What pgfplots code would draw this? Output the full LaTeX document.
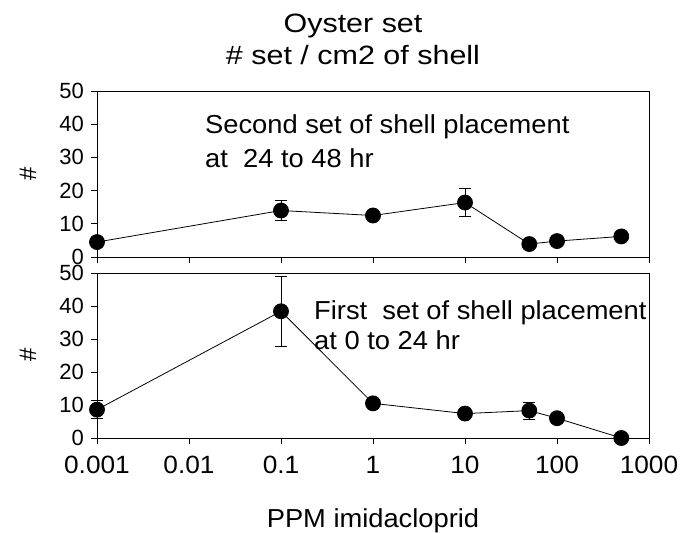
\documentclass[border=0pt]{standalone}
\usepackage{pgfplots}
\pgfplotsset{compat=1.18}
\usepackage{fontspec}
\setmainfont{Liberation Sans}
\newfontfamily\titlefont[FakeStretch=1.15]{Liberation Sans}
\newfontfamily\lblfont[FakeStretch=1.05]{Liberation Sans}

\pgfplotstableread{
x y e
0.001 4.5 0
0.1 14.0 3.0
1 12.5 0
10 16.4 4.2
50 3.9 0
100 4.8 1.0
500 6.2 0
}\secondset

\pgfplotstableread{
x y e
0.001 8.6 2.65
0.1 38.4 10.7
1 10.5 0
10 7.4 0
50 8.3 2.6
100 6.0 0
500 0 0
}\firstset

\begin{document}
\begin{tikzpicture}
\path[use as bounding box] (0,0) rectangle (696bp,533bp);

\begin{axis}[at={(97bp,276bp)}, anchor=south west,
    scale only axis, width=552bp, height=166bp,
    xmode=log, xmin=0.001, xmax=1000, ymin=0, ymax=50,
    xtick={0.001,0.01,0.1,1,10,100,1000}, xticklabels={},
    minor xtick={}, xminorticks=false,
    ytick={0,10,20,30,40,50},
    xtick pos=bottom, ytick pos=left, tick align=outside,
    major tick length=6bp,
    axis line style={black, line width=0.9bp},
    tick style={black, line width=0.9bp},
    /pgf/number format/assume math mode=true,
    yticklabel style={font=\fontsize{22bp}{26bp}\selectfont, inner sep=0pt, xshift=-7bp},
    clip=false]
\addplot[black, line width=0.8bp, mark=*, mark size=7.5bp, mark options={fill=black, draw=black},
  error bars/.cd, y dir=both, y explicit,
  error bar style={line width=0.8bp, black},
  error mark options={black, line width=0.8bp, mark size=6bp, rotate=90}]
  table[x=x, y=y, y error=e] {\secondset};
\end{axis}

\begin{axis}[at={(97bp,95bp)}, anchor=south west,
    scale only axis, width=552bp, height=165bp,
    xmode=log, xmin=0.001, xmax=1000, ymin=0, ymax=50,
    xtick={0.001,0.01,0.1,1,10,100,1000},
    xticklabels={0.001,0.01,0.1,1,10,100,1000},
    minor xtick={}, xminorticks=false,
    ytick={0,10,20,30,40,50},
    xtick pos=bottom, ytick pos=left, tick align=outside,
    major tick length=6bp,
    axis line style={black, line width=0.9bp},
    tick style={black, line width=0.9bp},
    /pgf/number format/assume math mode=true,
    yticklabel style={font=\fontsize{22bp}{26bp}\selectfont, inner sep=0pt, xshift=-7bp},
    xticklabel style={font=\fontsize{25bp}{30bp}\lblfont, inner sep=0pt, yshift=-12bp},
    clip=false]
\addplot[black, line width=0.8bp, mark=*, mark size=7.5bp, mark options={fill=black, draw=black},
  error bars/.cd, y dir=both, y explicit,
  error bar style={line width=0.8bp, black},
  error mark options={black, line width=0.8bp, mark size=6bp, rotate=90}]
  table[x=x, y=y, y error=e] {\firstset};
\end{axis}

% titles and labels
\node[font=\fontsize{26.5bp}{32bp}\titlefont, anchor=base] at (353bp,500bp) {Oyster set};
\node[font=\fontsize{26.5bp}{32bp}\titlefont, anchor=base] at (353bp,468bp) {\# set / cm2 of shell};
\node[font=\fontsize{26bp}{30bp}\lblfont, anchor=base] at (373bp,6bp) {PPM imidacloprid};
\node[font=\fontsize{24bp}{28bp}\selectfont, rotate=90] at (28bp,359bp) {\#};
\node[font=\fontsize{24bp}{28bp}\selectfont, rotate=90] at (28bp,178bp) {\#};

% annotations
\node[font=\fontsize{26bp}{30bp}\lblfont, anchor=base west, inner sep=0pt] at (205bp,399bp) {Second set of shell placement};
\node[font=\fontsize{26bp}{30bp}\lblfont, anchor=base west, inner sep=0pt] at (205bp,365bp) {at\ \ 24 to 48 hr};
\node[font=\fontsize{26bp}{30bp}\lblfont, anchor=base west, inner sep=0pt] at (314bp,213bp) {First\ \ set of shell placement};
\node[font=\fontsize{26bp}{30bp}\lblfont, anchor=base west, inner sep=0pt] at (314bp,183bp) {at 0 to 24 hr};
\end{tikzpicture}
\end{document}
